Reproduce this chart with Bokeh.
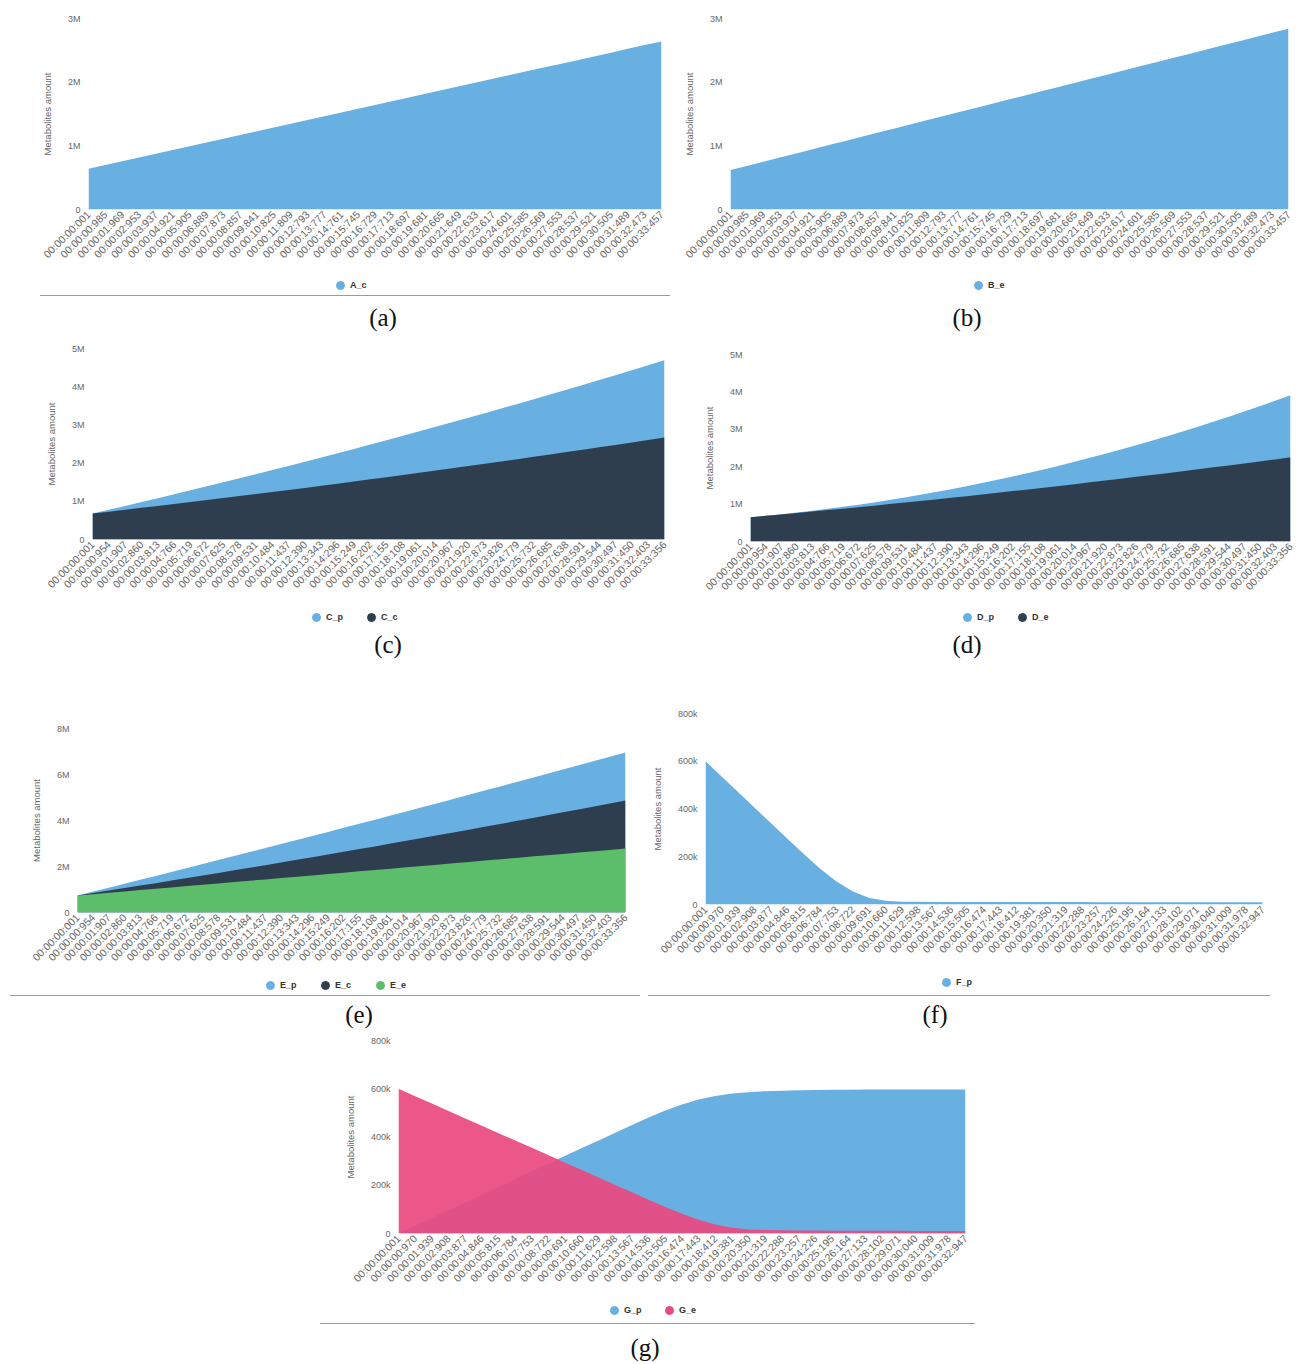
from bokeh.plotting import figure
from bokeh.models import Range1d, FixedTicker, Legend, LegendItem, Div, Spacer
from bokeh.layouts import column, row
from bokeh.embed import file_html
from bokeh.resources import INLINE

# ---------------- data (values in thousands) ----------------
labels_ab = ["00:00:00:001", "00:00:00:985", "00:00:01:969", "00:00:02:953", "00:00:03:937",
             "00:00:04:921", "00:00:05:905", "00:00:06:889", "00:00:07:873", "00:00:08:857",
             "00:00:09:841", "00:00:10:825", "00:00:11:809", "00:00:12:793", "00:00:13:777",
             "00:00:14:761", "00:00:15:745", "00:00:16:729", "00:00:17:713", "00:00:18:697",
             "00:00:19:681", "00:00:20:665", "00:00:21:649", "00:00:22:633", "00:00:23:617",
             "00:00:24:601", "00:00:25:585", "00:00:26:569", "00:00:27:553", "00:00:28:537",
             "00:00:29:521", "00:00:30:505", "00:00:31:489", "00:00:32:473", "00:00:33:457"]
labels_cde = ["00:00:00:001", "00:00:00:954", "00:00:01:907", "00:00:02:860", "00:00:03:813",
              "00:00:04:766", "00:00:05:719", "00:00:06:672", "00:00:07:625", "00:00:08:578",
              "00:00:09:531", "00:00:10:484", "00:00:11:437", "00:00:12:390", "00:00:13:343",
              "00:00:14:296", "00:00:15:249", "00:00:16:202", "00:00:17:155", "00:00:18:108",
              "00:00:19:061", "00:00:20:014", "00:00:20:967", "00:00:21:920", "00:00:22:873",
              "00:00:23:826", "00:00:24:779", "00:00:25:732", "00:00:26:685", "00:00:27:638",
              "00:00:28:591", "00:00:29:544", "00:00:30:497", "00:00:31:450", "00:00:32:403",
              "00:00:33:356"]
labels_fg = ["00:00:00:001", "00:00:00:970", "00:00:01:939", "00:00:02:908", "00:00:03:877",
             "00:00:04:846", "00:00:05:815", "00:00:06:784", "00:00:07:753", "00:00:08:722",
             "00:00:09:691", "00:00:10:660", "00:00:11:629", "00:00:12:598", "00:00:13:567",
             "00:00:14:536", "00:00:15:505", "00:00:16:474", "00:00:17:443", "00:00:18:412",
             "00:00:19:381", "00:00:20:350", "00:00:21:319", "00:00:22:288", "00:00:23:257",
             "00:00:24:226", "00:00:25:195", "00:00:26:164", "00:00:27:133", "00:00:28:102",
             "00:00:29:071", "00:00:30:040", "00:00:31:009", "00:00:31:978", "00:00:32:947"]

A_c = [640, 699, 758, 817, 875, 934, 993, 1052, 1111, 1170, 1228, 1287, 1346, 1405, 1464, 1523,
       1581, 1640, 1699, 1758, 1817, 1876, 1934, 1993, 2052, 2111, 2170, 2229, 2287, 2346, 2405,
       2464, 2523, 2582, 2640]
B_e = [620, 685, 751, 816, 881, 947, 1012, 1077, 1142, 1208, 1273, 1338, 1404, 1469, 1534, 1600,
       1665, 1730, 1795, 1861, 1926, 1991, 2057, 2122, 2187, 2253, 2318, 2383, 2448, 2514, 2579,
       2644, 2710, 2775, 2840]
C_p = [680, 779, 878, 979, 1081, 1183, 1286, 1391, 1496, 1602, 1709, 1817, 1926, 2036, 2147, 2259,
       2372, 2485, 2600, 2715, 2832, 2949, 3068, 3187, 3307, 3428, 3550, 3673, 3797, 3922, 4047,
       4174, 4302, 4430, 4560, 4690]
C_c = [680, 729, 778, 828, 878, 929, 980, 1032, 1084, 1136, 1189, 1243, 1297, 1351, 1406, 1462,
       1518, 1574, 1631, 1688, 1746, 1804, 1863, 1922, 1982, 2042, 2103, 2164, 2226, 2288, 2350,
       2413, 2477, 2541, 2605, 2670]
D_p = [650, 688, 729, 774, 823, 873, 928, 985, 1046, 1110, 1178, 1248, 1321, 1399, 1479, 1562,
       1649, 1739, 1832, 1928, 2028, 2131, 2237, 2346, 2459, 2575, 2694, 2816, 2941, 3070, 3202,
       3337, 3476, 3617, 3761, 3910]
D_e = [650, 687, 724, 762, 801, 839, 879, 919, 959, 1000, 1042, 1084, 1126, 1170, 1213, 1257,
       1302, 1347, 1393, 1439, 1486, 1533, 1581, 1629, 1678, 1728, 1778, 1828, 1879, 1930, 1982,
       2035, 2088, 2141, 2195, 2250]
E_p = [740, 909, 1078, 1248, 1419, 1589, 1761, 1933, 2105, 2278, 2452, 2626, 2801, 2976, 3151,
       3327, 3504, 3681, 3859, 4037, 4216, 4395, 4575, 4755, 4936, 5118, 5300, 5482, 5665, 5848,
       6032, 6217, 6402, 6587, 6773, 6960]
E_c = [740, 846, 953, 1060, 1169, 1277, 1387, 1497, 1608, 1720, 1832, 1945, 2059, 2174, 2289,
       2405, 2521, 2639, 2757, 2875, 2995, 3115, 3236, 3357, 3479, 3602, 3726, 3850, 3975, 4101,
       4227, 4354, 4482, 4611, 4740, 4870]
E_e = [740, 798, 857, 915, 973, 1031, 1090, 1148, 1206, 1265, 1323, 1381, 1439, 1498, 1556, 1614,
       1673, 1731, 1789, 1848, 1906, 1964, 2022, 2081, 2139, 2197, 2256, 2314, 2372, 2430, 2489,
       2547, 2605, 2664, 2722, 2780]
F_p = [600, 535, 470, 405, 340, 275, 211, 150, 96, 54, 27, 16, 12, 11, 10, 10, 10, 10, 10, 10,
       10, 10, 10, 10, 9, 9, 9, 9, 9, 9, 9, 9, 9, 9, 9]
G_p = [0, 32, 64, 97, 129, 161, 193, 225, 258, 290, 322, 354, 386, 418, 450, 481, 510, 535, 555,
       570, 580, 586, 590, 592, 594, 595, 596, 596, 597, 597, 597, 597, 597, 597, 597]
G_e = [600, 569, 539, 508, 477, 447, 416, 385, 355, 324, 293, 263, 232, 201, 171, 140, 110, 82,
       57, 37, 24, 17, 14, 13, 12, 12, 11, 11, 11, 11, 11, 10, 10, 10, 10]

yt_3m = [0, 1000, 2000, 3000]
yl_3m = ["0", "1M", "2M", "3M"]
yt_5m = [0, 1000, 2000, 3000, 4000, 5000]
yl_5m = ["0", "1M", "2M", "3M", "4M", "5M"]
yt_8m = [0, 2000, 4000, 6000, 8000]
yl_8m = ["0", "2M", "4M", "6M", "8M"]
yt_800k = [0, 200, 400, 600, 800]
yl_800k = ["0", "200k", "400k", "600k", "800k"]

# ---------------- styling ----------------
FONT = "Liberation Sans"
BLUE = "#68afe2"
DARK = "#2f3e4f"
GREEN = "#5cbd6b"
PINK = "#e94a80"


def make_chart(width, height, mbl, mbr, mbt, mbb, x_labels, y_ticks, y_labels, series):
    p = figure(width=width, height=height, output_backend="svg", toolbar_location=None,
               x_range=Range1d(0, len(x_labels) - 1), y_range=Range1d(y_ticks[0], y_ticks[-1]),
               min_border_left=mbl, min_border_right=mbr, min_border_top=mbt,
               min_border_bottom=mbb)
    p.outline_line_color = None
    p.xgrid.visible = False
    p.ygrid.visible = False
    p.background_fill_color = "white"
    p.border_fill_color = "white"

    for name, vals, color, alpha in series:
        xs = list(range(len(vals)))
        p.varea(x=xs, y1=[0] * len(vals), y2=vals, fill_color=color, fill_alpha=alpha)

    xa = p.xaxis[0]
    xa.ticker = FixedTicker(ticks=list(range(len(x_labels))))
    xa.major_label_overrides = {i: s for i, s in enumerate(x_labels)}
    xa.major_label_orientation = 0.785398
    xa.major_label_text_font = FONT
    xa.major_label_text_font_size = "10.5px"
    xa.major_label_text_color = "#666666"
    xa.major_label_standoff = 3
    xa.axis_line_color = None
    xa.major_tick_line_color = None
    xa.minor_tick_line_color = None
    xa.major_tick_out = 0
    xa.major_tick_in = 0

    ya = p.yaxis[0]
    ya.ticker = FixedTicker(ticks=y_ticks)
    ya.major_label_overrides = {t: s for t, s in zip(y_ticks, y_labels)}
    ya.major_label_text_font = FONT
    ya.major_label_text_font_size = "9px"
    ya.major_label_text_color = "#666666"
    ya.major_label_standoff = 8
    ya.axis_line_color = None
    ya.major_tick_line_color = None
    ya.minor_tick_line_color = None
    ya.major_tick_out = 0
    ya.major_tick_in = 0
    ya.axis_label = "Metabolites amount"
    ya.axis_label_text_font = FONT
    ya.axis_label_text_font_size = "9.5px"
    ya.axis_label_text_font_style = "normal"
    ya.axis_label_text_color = "#666666"
    ya.axis_label_standoff = 12
    return p


def make_legend(width, height, series, vx, vy):
    # legend-only strip; its frame lines up with the chart frame above it
    q = figure(width=width, height=height, output_backend="svg", toolbar_location=None,
               x_range=Range1d(0, 1), y_range=Range1d(0, 1),
               x_axis_location=None, y_axis_location=None,
               min_border_left=0, min_border_right=0, min_border_top=0, min_border_bottom=0)
    q.outline_line_color = None
    q.xgrid.visible = False
    q.ygrid.visible = False
    q.background_fill_color = "white"
    q.border_fill_color = "white"
    items = []
    for name, vals, color, alpha in series:
        # legend proxy marker, kept outside the visible range of this strip
        r = q.scatter(x=[-5], y=[-5], marker="circle", size=8, fill_color=color,
                      line_color=color)
        items.append(LegendItem(label=name, renderers=[r]))
    legend = Legend(items=items, location=(vx, vy), orientation="horizontal",
                    glyph_width=20, glyph_height=20, label_height=20, label_standoff=0,
                    spacing=15, padding=0, margin=0,
                    label_text_font=FONT, label_text_font_size="9px",
                    label_text_font_style="bold", label_text_color="#333333",
                    background_fill_alpha=0, border_line_alpha=0)
    q.add_layout(legend)
    return q


def caption(text, width, height, cap_x, cap_y, line=None):
    line_html = ""
    if line is not None:
        x0, x1 = line
        line_html = ('<div style="position:absolute;left:%dpx;top:0px;width:%dpx;height:0px;'
                     'border-top:1px solid #9a9a9a;"></div>' % (x0, x1 - x0))
    html = ('<div style="position:relative;width:%dpx;height:%dpx;">%s'
            '<div style="position:absolute;left:%dpx;width:80px;top:%dpx;text-align:center;'
            "font-family:'Liberation Serif','Times New Roman',serif;font-size:25px;"
            'line-height:30px;color:#111;">%s</div></div>'
            % (width, height, line_html, cap_x - 40, cap_y - 15, text))
    return Div(text=html, width=width, height=height, margin=(0, 0, 0, 0))


def panel(width, chart_h, mbl, mbr, mbt, mbb, x_labels, y_ticks, y_labels, series,
          leg_h, leg_x, leg_y, cap_text, cap_h, cap_x, cap_y, line=None):
    return column(make_chart(width, chart_h, mbl, mbr, mbt, mbb, x_labels, y_ticks, y_labels,
                             series),
                  make_legend(width, leg_h, series, leg_x, leg_y),
                  caption(cap_text, width, cap_h, cap_x, cap_y, line=line))


ser_a = [("A_c", A_c, BLUE, 1.0)]
ser_b = [("B_e", B_e, BLUE, 1.0)]
ser_c = [("C_p", C_p, BLUE, 1.0), ("C_c", C_c, DARK, 1.0)]
ser_d = [("D_p", D_p, BLUE, 1.0), ("D_e", D_e, DARK, 1.0)]
ser_e = [("E_p", E_p, BLUE, 1.0), ("E_c", E_c, DARK, 1.0), ("E_e", E_e, GREEN, 1.0)]
ser_f = [("F_p", F_p, BLUE, 1.0)]
ser_g = [("G_p", G_p, BLUE, 1.0), ("G_e", G_e, PINK, 0.93)]

col_a = panel(672, 262, 80, 19, 10, 61, labels_ab, yt_3m, yl_3m, ser_a,
              25, 242, 0, "(a)", 40, 375, 23, line=(32, 662))
col_b = panel(617, 262, 40, 9, 10, 61, labels_ab, yt_3m, yl_3m, ser_b,
              25, 238, 0, "(b)", 40, 287, 23)
col_c = panel(682, 270, 84, 26, 13, 66, labels_cde, yt_5m, yl_5m, ser_c,
              25, 214, 3, "(c)", 40, 380, 15)
col_d = panel(607, 270, 60, 7, 19, 64, labels_cde, yt_5m, yl_5m, ser_d,
              25, 207, 3, "(d)", 40, 277, 15)
col_e = panel(640, 302, 69, 23, 58, 60, labels_cde, yt_8m, yl_8m, ser_e,
              23, 183, 0, "(e)", 35, 351, 20, line=(2, 632))
col_f = panel(649, 302, 52, 35, 43, 68, labels_fg, yt_800k, yl_800k, ser_f,
              23, 231, 3, "(f)", 35, 287, 20, line=(0, 622))
col_g = panel(680, 268, 88, 25, 10, 65, labels_fg, yt_800k, yl_800k, ser_g,
              25, 206, 3, "(g)", 33, 335, 25, line=(10, 665))

body = column(
    row(col_a, col_b),
    row(col_c, col_d),
    row(col_e, col_f),
    row(Spacer(width=302, height=326), col_g),
)

layout = row(Spacer(width=8, height=1356), column(Spacer(width=1289, height=8), body))

open("out.html", "w").write(file_html(layout, INLINE))
